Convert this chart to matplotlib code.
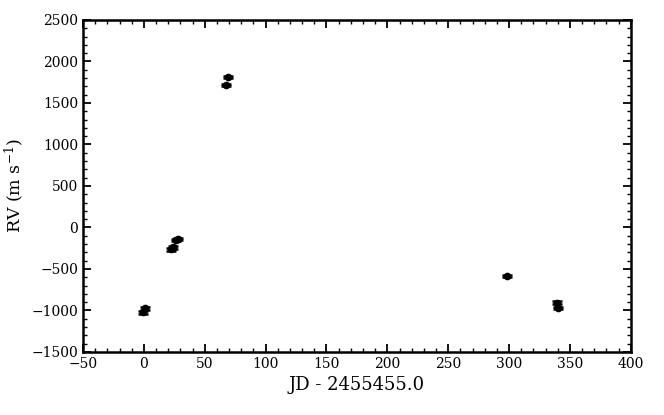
import numpy as np
import matplotlib.pyplot as plt
from matplotlib.ticker import MultipleLocator

# radial velocity measurements
jd = [-1.0, 1.0, 22.0, 24.0, 26.0, 28.0, 67.5, 69.5, 298.0, 339.0, 340.0]
rv = [-1025, -975, -265, -240, -150, -140, 1715, 1812, -580, -905, -970]
rv_err = [15, 15, 15, 15, 15, 15, 15, 15, 12, 15, 15]

plt.rcParams['font.family'] = 'DejaVu Serif'
plt.rcParams['mathtext.fontset'] = 'dejavuserif'
plt.rcParams['mathtext.default'] = 'regular'

fig, ax = plt.subplots(figsize=(6.64, 4.15), dpi=100)
fig.subplots_adjust(left=0.125, right=0.95, top=0.952, bottom=0.152)

ax.errorbar(jd, rv, yerr=rv_err, fmt='o', color='k', ms=4.5, capsize=3.5,
            elinewidth=1.2, capthick=1.8)

ax.set_xlim(-50, 400)
ax.set_ylim(-1500, 2500)
ax.xaxis.set_major_locator(MultipleLocator(50))
ax.xaxis.set_minor_locator(MultipleLocator(10))
ax.yaxis.set_major_locator(MultipleLocator(500))
ax.yaxis.set_minor_locator(MultipleLocator(100))
ax.tick_params(which='both', direction='in', top=True, right=True, labelsize=10)
ax.tick_params(which='major', length=6, width=1.3)
ax.tick_params(which='minor', length=3, width=1)
for sp in ax.spines.values():
    sp.set_linewidth(1.8)

ax.set_xlabel('JD - 2455455.0', fontsize=13)
ax.set_ylabel('RV (m s$^{-1}$)', fontsize=12.5)

fig.savefig('out.png', dpi=100)
